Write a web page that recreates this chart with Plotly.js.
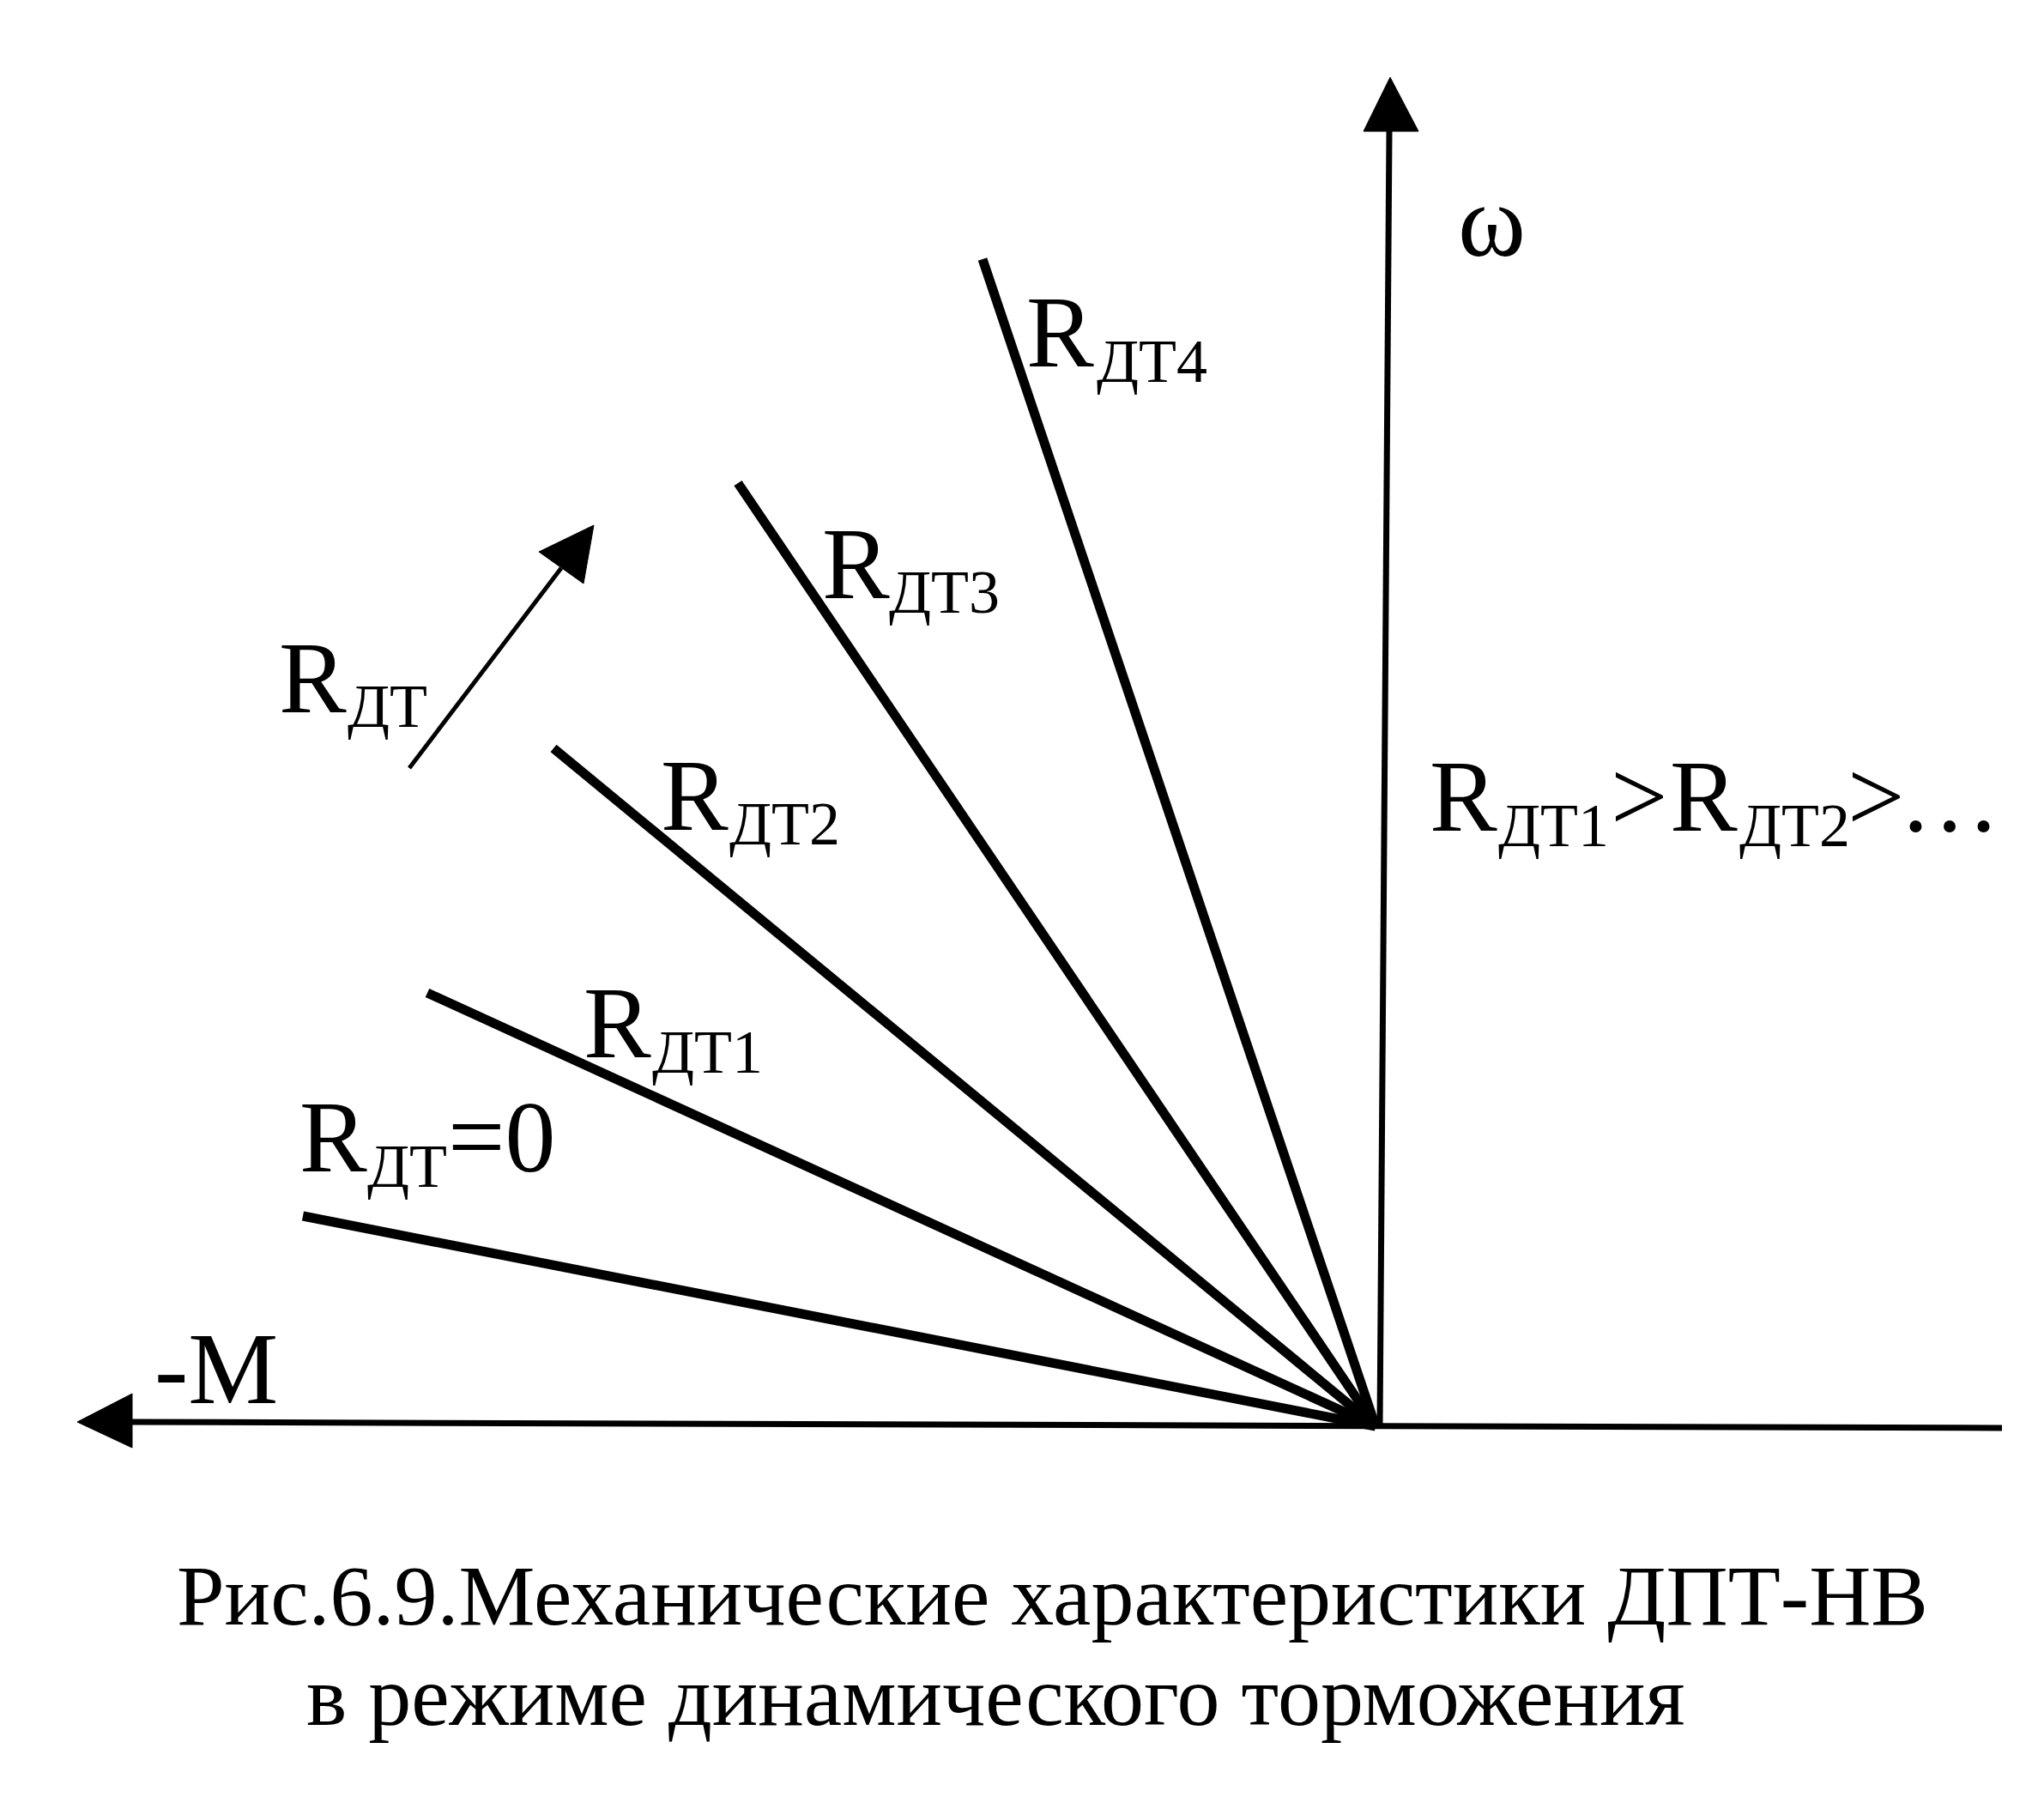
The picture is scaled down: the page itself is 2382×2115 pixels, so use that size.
<!DOCTYPE html>
<html><head><meta charset="utf-8">
<script src="https://cdn.plot.ly/plotly-3.0.1.min.js"></script>
<style>html,body{margin:0;padding:0;background:#fff;overflow:hidden}#chart{width:2382px;height:2115px}</style>
</head><body><div id="chart"></div>
<script>
// Mechanical characteristics (drawing units, origin at M=0, ω=0; -M to the left)
const rayNames = ['RДТ=0', 'RДТ1', 'RДТ2', 'RДТ3', 'RДТ4'];
const rayEndM = [-1250, -1105, -958, -743, -458];
const rayEndW = [245, 505, 790, 1099, 1360];
const origin = [0, 0];

// axes
const mAxisM = [730, -1449];  const mAxisW = [-2, 5];
const wAxisM = [5, 16];       const wAxisW = [0, 1509];
const mHeadM = [-1513, -1449, -1449]; const mHeadW = [5, 38, -25];
const wHeadM = [17, -14, 50];         const wHeadW = [1572, 1509, 1509];

// "R_ДТ increases" arrow
const rArrowM = [-1126, -949]; const rArrowW = [767, 1000];
const rHeadM = [-911, -975, -923]; const rHeadW = [1050, 1019, 982];

const ink = '#000';
const traces = [];
for (let i = 0; i < rayEndM.length; i++) {
  traces.push({name: rayNames[i], x: [rayEndM[i], origin[0]], y: [rayEndW[i], origin[1]], mode: 'lines',
    line: {color: ink, width: 11}, hoverinfo: 'skip'});
}
traces.push({x: mAxisM, y: mAxisW, mode: 'lines', line: {color: ink, width: 7}});
traces.push({x: wAxisM, y: wAxisW, mode: 'lines', line: {color: ink, width: 7}});
traces.push({x: rArrowM, y: rArrowW, mode: 'lines', line: {color: ink, width: 5}});
[[mHeadM, mHeadW], [wHeadM, wHeadW], [rHeadM, rHeadW]].forEach(h => {
  traces.push({x: h[0].concat([h[0][0]]), y: h[1].concat([h[1][0]]), mode: 'lines', fill: 'toself',
    fillcolor: ink, line: {color: ink, width: 1}});
});

const OX = 1603, OY = 1662; // pixel origin, used only for label placement
const FONT = 'Liberation Serif, Times New Roman, serif';
const MAIN = 118, SUB = 72, CAP = 100;
// text placed by left edge and baseline (pixels)
function txt(text, px, base, size, xa) {
  return {text: text, x: px - OX, y: OY - (base - 0.3375 * size), xref: 'x', yref: 'y',
    xanchor: xa || 'left', yanchor: 'middle', showarrow: false, borderpad: 0, borderwidth: 0,
    font: {family: FONT, size: size, color: ink}};
}
const annotations = [
  txt('R', 1196, 427, MAIN), txt('ДТ4', 1278, 445, SUB),
  txt('R', 958, 697, MAIN),  txt('ДТ3', 1036, 714, SUB),
  txt('R', 325, 830, MAIN),  txt('ДТ', 405, 847, SUB),
  txt('R', 770, 967, MAIN),  txt('ДТ2', 850, 984, SUB),
  txt('R', 680, 1232, MAIN), txt('ДТ1', 760, 1250, SUB),
  txt('R', 349, 1365, MAIN), txt('ДТ', 428, 1383, SUB), txt('=0', 522, 1365, MAIN),
  txt('R', 1666, 968, MAIN), txt('ДТ1', 1746, 986, SUB), txt('&gt;', 1877, 968, MAIN),
  txt('R', 1946, 968, MAIN), txt('ДТ2', 2027, 986, SUB), txt('&gt;', 2153, 968, MAIN),
  txt('…', 2213, 968, MAIN),
  txt('ω', 1738, 298, 120, 'center'),
  txt('-M', 180, 1635, MAIN),
  txt('Рис.6.9.Механические характеристики ДПТ-НВ', 206, 1893, CAP),
  txt('в режиме динамического торможения', 357, 2010, CAP)
];

const layout = {
  width: 2382, height: 2115, margin: {l: 0, r: 0, t: 0, b: 0},
  paper_bgcolor: '#fff', plot_bgcolor: '#fff', showlegend: false,
  xaxis: {range: [-OX, 2382 - OX], visible: false, fixedrange: true},
  yaxis: {range: [OY - 2115, OY], visible: false, fixedrange: true},
  annotations: annotations
};
Plotly.newPlot('chart', traces, layout, {staticPlot: true, displayModeBar: false});
</script></body></html>
